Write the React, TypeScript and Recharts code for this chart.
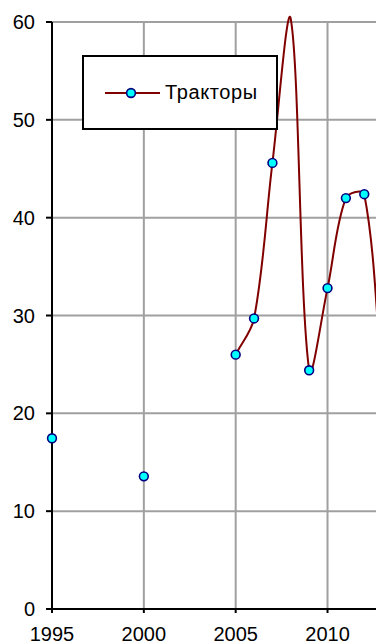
import { Legend, Line, LineChart, ReferenceLine, XAxis, YAxis } from "recharts";

const years = [1995, 1996, 1997, 1998, 1999, 2000, 2001, 2002, 2003, 2004, 2005, 2006, 2007, 2008, 2009, 2010, 2011, 2012, 2013];
const tractors: (number | null)[] = [17.45, null, null, null, null, 13.56, null, null, null, null, 26.0, 29.7, 45.6, 60.3, 24.4, 32.8, 42.0, 42.4, 22.5];
const xTicks = [1995, 2000, 2005, 2010];
const yTicks = [0, 10, 20, 30, 40, 50, 60];
const seriesName = "Тракторы";

const chartData = years.map((year, i) => ({ year, value: tractors[i] }));

const FONT = "Arial, 'Liberation Sans', sans-serif";
const LINE = "#800000";
const GRID = "#a0a0a0";

// Excel-like smoothed line: bezier tangents scaled by neighbouring chord lengths
function excelSmooth(context: any) {
  let pts: [number, number][] = [];
  const dist = (a: [number, number], b: [number, number]) => Math.hypot(b[0] - a[0], b[1] - a[1]);
  return {
    areaStart() {},
    areaEnd() {},
    lineStart() {
      pts = [];
    },
    point(x: number, y: number) {
      pts.push([+x, +y]);
    },
    lineEnd() {
      if (pts.length === 0) return;
      context.moveTo(pts[0][0], pts[0][1]);
      if (pts.length === 1) {
        context.closePath();
        return;
      }
      for (let i = 0; i < pts.length - 1; i++) {
        const p0 = pts[i - 1] ?? pts[i];
        const p1 = pts[i];
        const p2 = pts[i + 1];
        const p3 = pts[i + 2] ?? pts[i + 1];
        const d01 = dist(p0, p1);
        const d12 = dist(p1, p2);
        const d23 = dist(p2, p3);
        const a = d12 / (d01 + d12 || 1) / 3;
        const b = d12 / (d12 + d23 || 1) / 3;
        context.bezierCurveTo(
          p1[0] + (p2[0] - p0[0]) * a,
          p1[1] + (p2[1] - p0[1]) * a,
          p2[0] - (p3[0] - p1[0]) * b,
          p2[1] - (p3[1] - p1[1]) * b,
          p2[0],
          p2[1]
        );
      }
    },
  };
}

function Marker(props: any) {
  const { cx, cy, value, index } = props;
  if (value == null || value > 60 || cx == null || cy == null) return <g key={`d${index}`} />;
  return <circle key={`d${index}`} cx={cx} cy={cy} r={4.4} fill="#00ffff" stroke="#000080" strokeWidth={1.6} />;
}

function LegendBox() {
  return (
    <div
      style={{
        boxSizing: "border-box",
        width: 196,
        height: 75,
        border: "2px solid #000",
        background: "#fff",
        display: "flex",
        alignItems: "center",
        fontFamily: FONT,
        fontSize: 20,
        color: "#000",
      }}
    >
      <svg width={82} height={20} style={{ marginLeft: 19 }}>
        <line x1={2} y1={10} x2={57} y2={10} stroke={LINE} strokeWidth={2} />
        <circle cx={28} cy={10} r={4.4} fill="#00ffff" stroke="#000080" strokeWidth={1.6} />
      </svg>
      <span style={{ marginLeft: -20, letterSpacing: 0.6 }}>{seriesName}</span>
    </div>
  );
}

export default function App() {
  return (
    <div style={{ position: "fixed", left: 0, top: 0, width: 376, height: 643, overflow: "hidden", background: "#fff" }}>
      <LineChart width={401} height={660} data={chartData} margin={{ top: 0, right: 0, bottom: 0, left: 0 }}>
        {yTicks.slice(1).map((y) => (
          <ReferenceLine
            key={`h${y}`}
            segment={[
              { x: 1995, y },
              { x: 2014, y },
            ]}
            stroke={GRID}
            strokeWidth={2}
          />
        ))}
        {xTicks.slice(1).map((x) => (
          <ReferenceLine
            key={`v${x}`}
            segment={[
              { x, y: 0 },
              { x, y: 60 },
            ]}
            stroke={GRID}
            strokeWidth={2}
          />
        ))}
        <ReferenceLine
          segment={[
            { x: 1995, y: 0 },
            { x: 1995, y: 60 },
          ]}
          stroke="#000"
          strokeWidth={2}
        />
        <XAxis
          dataKey="year"
          type="number"
          domain={[1995, 2014]}
          ticks={xTicks}
          height={51}
          tickSize={4}
          tickMargin={14}
          axisLine={{ stroke: "#000", strokeWidth: 2 }}
          tickLine={{ stroke: "#000", strokeWidth: 2 }}
          tick={{ fill: "#000", fontSize: 20, fontFamily: FONT }}
          interval={0}
        />
        <YAxis
          domain={[0, 62.25]}
          ticks={yTicks}
          width={52}
          tickSize={6}
          tickMargin={11}
          axisLine={false}
          tickLine={{ stroke: "#000", strokeWidth: 2 }}
          tick={{ fill: "#000", fontSize: 20, fontFamily: FONT }}
          interval={0}
        />
        <Legend
          layout="horizontal"
          verticalAlign="middle"
          align="center"
          content={() => <LegendBox />}
          wrapperStyle={{ position: "absolute", left: 82, top: 55, width: 196, height: 75 }}
        />
        <Line
          dataKey="value"
          name={seriesName}
          type={excelSmooth as any}
          stroke={LINE}
          strokeWidth={2}
          connectNulls={false}
          dot={Marker}
          activeDot={false}
          isAnimationActive={false}
        />
      </LineChart>
    </div>
  );
}
